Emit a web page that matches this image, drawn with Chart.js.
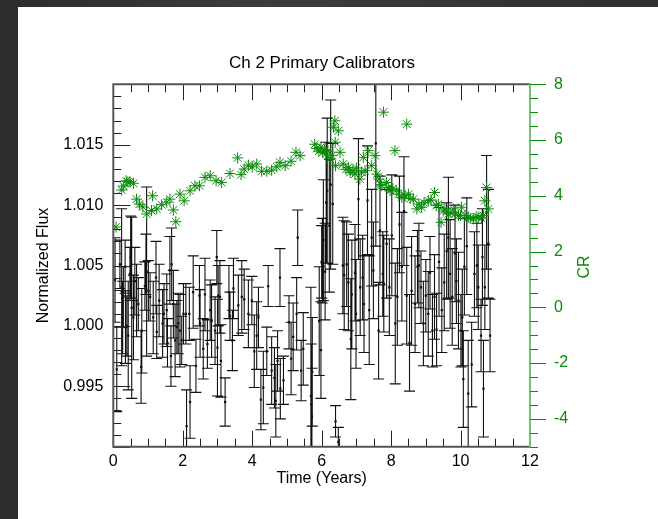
<!DOCTYPE html>
<html>
<head>
<meta charset="utf-8">
<script src="https://cdn.jsdelivr.net/npm/chart.js@4"></script>
<style>
    html, body { margin: 0; padding: 0; }
    body { width: 658px; height: 519px; overflow: hidden; position: relative;
           background: linear-gradient(90deg, #2c2c2c, #3c3c3c 40%, #2f2f2f); }
    #panel { position: absolute; left: 18px; top: 7px; right: 0; bottom: 0; background: #fff; }
    #chart { position: absolute; left: 0; top: 0; }
</style>
</head>
<body>
<div id="panel"><canvas id="chart" width="608" height="512"></canvas></div>
<script>
/* ---------- data ---------- */
const fluxTime = [
    0.05, 0.10, 0.19, 0.24, 0.27, 0.29, 0.34, 0.35, 0.39, 0.43, 0.48, 0.50, 0.53, 0.58, 0.62, 0.67, 0.72, 0.80, 0.82, 0.91,
    0.94, 0.96, 1.01, 1.06, 1.15, 1.23, 1.25, 1.32, 1.42, 1.46, 1.54, 1.56, 1.63, 1.66, 1.68, 1.73, 1.78, 1.83, 1.87, 1.92,
    1.97, 2.02, 2.09, 2.11, 2.19, 2.21, 2.30, 2.38, 2.48, 2.50, 2.59, 2.64, 2.71, 2.79, 2.83, 2.93, 2.98, 3.00, 3.02, 3.07,
    3.10, 3.22, 3.33, 3.36, 3.43, 3.46, 3.60, 3.70, 3.77, 3.89, 3.99, 4.06, 4.13, 4.18, 4.25, 4.32, 4.42, 4.46, 4.56, 4.64,
    4.68, 4.73, 4.80, 4.81, 4.90, 5.06, 5.12, 5.18, 5.28, 5.31, 5.41, 5.47, 5.69, 5.70, 5.72, 5.73, 5.93, 5.98, 6.00, 6.02,
    6.05, 6.10, 6.13, 6.16, 6.22, 6.26, 6.32, 6.40, 6.48, 6.61, 6.65, 6.72, 6.77, 6.84, 6.87, 6.96, 6.99, 7.06, 7.11, 7.18,
    7.22, 7.32, 7.37, 7.44, 7.49, 7.56, 7.64, 7.68, 7.76, 7.79, 7.87, 7.95, 8.02, 8.12, 8.18, 8.24, 8.31, 8.37, 8.45, 8.53,
    8.59, 8.69, 8.76, 8.80, 8.86, 8.93, 9.00, 9.07, 9.12, 9.19, 9.25, 9.31, 9.38, 9.46, 9.53, 9.60, 9.65, 9.70, 9.76, 9.84,
    9.88, 9.94, 10.01, 10.05, 10.08, 10.11, 10.18, 10.22, 10.32, 10.40, 10.47, 10.51, 10.59, 10.63, 10.66, 10.70, 10.75, 10.80, 10.85
];
const fluxValue = [
    1.0038, 0.9964, 1.0051, 1.0032, 1.0007, 1.0024, 1.0049, 0.9999, 1.0000, 0.9992, 1.0043, 1.0057, 1.0015, 1.0007, 1.0037, 1.0021, 1.0018, 0.9966, 0.9996, 1.0033,
    1.0051, 1.0045, 1.0029, 1.0024, 1.0007, 1.0040, 0.9995, 1.0021, 1.0002, 1.0010, 1.0013, 0.9986, 1.0046, 0.9975, 1.0051, 1.0018, 0.9988, 0.9999, 1.0002, 0.9996,
    0.9988, 1.0010, 1.0010, 0.9917, 1.0010, 0.9937, 1.0028, 0.9967, 1.0025, 1.0002, 0.9981, 1.0026, 0.9985, 1.0013, 1.0004, 0.9996, 1.0057, 0.9982, 1.0025, 1.0024,
    0.9971, 0.9937, 1.0028, 1.0008, 0.9988, 1.0031, 1.0017, 1.0024, 1.0022, 1.0010, 1.0021, 0.9979, 0.9992, 1.0007, 0.9939, 0.9949, 0.9979, 1.0033, 0.9963, 0.9957,
    0.9938, 0.9971, 1.0040, 0.9948, 0.9955, 1.0003, 0.9973, 0.9991, 1.0010, 1.0073, 0.9963, 0.9981, 0.9942, 0.9935, 0.9925, 0.9962, 1.0004, 0.9980, 1.0053, 1.0054,
    1.0071, 1.0045, 1.0102, 1.0112, 1.0083, 1.0117, 1.0101, 0.9921, 0.9904, 1.0050, 1.0042, 1.0051, 1.0036, 0.9989, 1.0026, 1.0044, 1.0010, 1.0105, 1.0032, 1.0040,
    1.0018, 1.0104, 1.0013, 1.0073, 1.0046, 1.0151, 0.9996, 1.0079, 1.0043, 1.0035, 1.0068, 1.0032, 1.0075, 1.0002, 1.0024, 1.0084, 1.0049, 1.0095, 1.0025, 0.9986,
    1.0029, 1.0018, 1.0049, 1.0050, 1.0032, 1.0002, 1.0025, 1.0010, 1.0044, 0.9996, 1.0024, 0.9997, 1.0053, 1.0013, 1.0036, 1.0062, 1.0073, 1.0043, 1.0024, 1.0060,
    1.0037, 1.0021, 0.9996, 1.0007, 0.9956, 1.0049, 1.0066, 0.9944, 0.9968, 1.0043, 1.0050, 1.0032, 0.9992, 1.0057, 0.9948, 1.0032, 1.0094, 1.0068, 0.9992
];
const fluxError = [
    0.0035, 0.0035, 0.0020, 0.0065, 0.0030, 0.0025, 0.0022, 0.0030, 0.0025, 0.0045, 0.0022, 0.0034, 0.0075, 0.0035, 0.0028, 0.0030, 0.0022, 0.0030, 0.0035, 0.0020,
    0.0025, 0.0070, 0.0025, 0.0020, 0.0030, 0.0030, 0.0022, 0.0030, 0.0028, 0.0025, 0.0030, 0.0020, 0.0028, 0.0025, 0.0030, 0.0028, 0.0030, 0.0022, 0.0025, 0.0030,
    0.0020, 0.0025, 0.0025, 0.0030, 0.0022, 0.0030, 0.0030, 0.0022, 0.0025, 0.0028, 0.0025, 0.0030, 0.0020, 0.0025, 0.0030, 0.0028, 0.0022, 0.0040, 0.0025, 0.0030,
    0.0030, 0.0020, 0.0022, 0.0020, 0.0025, 0.0025, 0.0025, 0.0030, 0.0025, 0.0028, 0.0020, 0.0030, 0.0028, 0.0025, 0.0025, 0.0030, 0.0020, 0.0017, 0.0028, 0.0025,
    0.0030, 0.0025, 0.0024, 0.0025, 0.0020, 0.0022, 0.0030, 0.0028, 0.0030, 0.0023, 0.0025, 0.0030, 0.0090, 0.0050, 0.0040, 0.0045, 0.0045, 0.0040, 0.0030, 0.0035,
    0.0050, 0.0040, 0.0050, 0.0060, 0.0055, 0.0070, 0.0050, 0.0013, 0.0012, 0.0040, 0.0045, 0.0035, 0.0040, 0.0050, 0.0045, 0.0040, 0.0045, 0.0050, 0.0040, 0.0035,
    0.0040, 0.0045, 0.0045, 0.0040, 0.0040, 0.0085, 0.0040, 0.0045, 0.0035, 0.0040, 0.0045, 0.0040, 0.0050, 0.0050, 0.0040, 0.0040, 0.0045, 0.0045, 0.0040, 0.0040,
    0.0045, 0.0040, 0.0030, 0.0035, 0.0030, 0.0035, 0.0030, 0.0035, 0.0030, 0.0030, 0.0035, 0.0030, 0.0045, 0.0035, 0.0040, 0.0040, 0.0050, 0.0045, 0.0040, 0.0040,
    0.0035, 0.0040, 0.0030, 0.0040, 0.0040, 0.0040, 0.0040, 0.0044, 0.0035, 0.0035, 0.0035, 0.0035, 0.0030, 0.0040, 0.0040, 0.0035, 0.0047, 0.0045, 0.0030
];

const crTime = [
    0.08, 0.24, 0.30, 0.37, 0.42, 0.48, 0.58, 0.67, 0.75, 0.85, 0.96, 1.10, 1.13, 1.25, 1.39, 1.54, 1.63, 1.73, 1.80, 1.92,
    2.04, 2.21, 2.35, 2.48, 2.64, 2.79, 2.96, 3.12, 3.36, 3.58, 3.68, 3.77, 3.89, 4.00, 4.13, 4.27, 4.42, 4.56, 4.71, 4.80,
    4.95, 5.12, 5.26, 5.38, 5.80, 5.86, 5.92, 5.98, 6.03, 6.08, 6.13, 6.18, 6.24, 6.30, 6.34, 6.38, 6.39, 6.40, 6.48, 6.53,
    6.62, 6.70, 6.77, 6.82, 6.90, 6.96, 7.00, 7.10, 7.15, 7.20, 7.25, 7.34, 7.44, 7.54, 7.59, 7.65, 7.70, 7.73, 7.78, 7.87,
    7.92, 7.97, 8.05, 8.11, 8.15, 8.21, 8.31, 8.40, 8.45, 8.50, 8.55, 8.64, 8.74, 8.80, 8.88, 8.95, 9.07, 9.15, 9.25, 9.30,
    9.36, 9.44, 9.50, 9.55, 9.65, 9.70, 9.79, 9.85, 9.94, 10.00, 10.03, 10.13, 10.22, 10.28, 10.37, 10.45, 10.51, 10.60, 10.66, 10.70,
    10.75, 10.80
];
const crValue = [
    2.88, 4.21, 4.35, 4.54, 4.50, 4.50, 4.45, 3.88, 3.70, 3.60, 3.35, 3.47, 4.00, 3.53, 3.68, 3.77, 3.88, 3.49, 3.07, 4.06,
    3.82, 4.18, 4.36, 4.36, 4.66, 4.72, 4.54, 4.48, 4.80, 5.36, 4.76, 4.96, 5.10, 5.04, 5.14, 4.88, 4.88, 4.92, 5.04, 5.20,
    5.08, 5.24, 5.56, 5.44, 5.85, 5.70, 5.60, 5.75, 5.55, 5.65, 5.50, 5.60, 5.32, 5.45, 6.46, 6.69, 5.92, 5.08, 6.33, 5.56,
    5.14, 4.95, 5.02, 4.84, 4.90, 4.78, 5.00, 4.60, 4.85, 5.38, 4.90, 5.62, 5.08, 5.44, 4.78, 4.60, 4.40, 4.36, 7.00, 4.48,
    4.30, 4.18, 4.25, 5.62, 4.20, 4.06, 3.94, 4.00, 6.57, 4.06, 3.90, 3.88, 3.53, 3.70, 3.59, 3.75, 3.82, 3.85, 4.12, 3.65,
    3.70, 3.05, 3.45, 3.53, 3.35, 3.40, 3.53, 3.35, 3.29, 3.30, 3.59, 3.29, 3.23, 3.20, 3.17, 3.25, 3.23, 3.20, 3.29, 3.82,
    4.30, 3.53
];

const xRange = [0, 12];
const fluxRange = [0.990, 1.020];
const crRange = [-5, 8];

const GREEN = '#0a8a0a';
const FONT = "'Liberation Sans', Arial, Helvetica, sans-serif";

/* ---------- helpers ---------- */
function steps(lo, hi, step) {
    const out = [];
    for (let v = lo; v <= hi + step / 100; v += step) out.push(Math.round(v * 1e6) / 1e6);
    return out;
}
const isMult = (v, m) => Math.abs(v / m - Math.round(v / m)) < 1e-6;

/* error bars sit under the points */
const errorBars = {
    id: 'errorBars',
    beforeDatasetsDraw(chart) {
        const { ctx, chartArea: a, scales: { x, y } } = chart;
        ctx.save();
        ctx.beginPath();
        ctx.rect(a.left, a.top, a.right - a.left, a.bottom - a.top);
        ctx.clip();
        ctx.strokeStyle = '#111';
        ctx.lineWidth = 1.1;
        ctx.beginPath();
        fluxTime.forEach((t, i) => {
            const px = x.getPixelForValue(t);
            const hi = y.getPixelForValue(fluxValue[i] + fluxError[i]);
            const lo = y.getPixelForValue(fluxValue[i] - fluxError[i]);
            ctx.moveTo(px, hi); ctx.lineTo(px, lo);
            ctx.moveTo(px - 5.5, hi); ctx.lineTo(px + 5.5, hi);
            ctx.moveTo(px - 5.5, lo); ctx.lineTo(px + 5.5, lo);
        });
        ctx.stroke();
        ctx.restore();
    }
};

/* IDL-style frame: inward ticks on three sides, green outward ticks on the right */
const frame = {
    id: 'frame',
    afterDraw(chart) {
        const { ctx, chartArea: a, scales: { x, y, y2 } } = chart;
        ctx.save();

        ctx.strokeStyle = '#222';
        ctx.lineWidth = 1;
        ctx.beginPath();
        steps(xRange[0], xRange[1], 0.5).forEach(v => {
            const px = Math.round(x.getPixelForValue(v)) + 0.5;
            const len = isMult(v, 2) ? 16 : 8;
            ctx.moveTo(px, a.bottom); ctx.lineTo(px, a.bottom - len);
            ctx.moveTo(px, a.top); ctx.lineTo(px, a.top + len);
        });
        steps(fluxRange[0], fluxRange[1], 0.001).forEach(v => {
            const py = Math.round(y.getPixelForValue(v)) + 0.5;
            const len = isMult(v, 0.005) ? 17 : 8;
            ctx.moveTo(a.left, py); ctx.lineTo(a.left + len, py);
        });
        ctx.stroke();

        ctx.strokeStyle = '#555';
        ctx.lineWidth = 2;
        ctx.beginPath();
        ctx.moveTo(a.right, a.top); ctx.lineTo(a.left, a.top);
        ctx.lineTo(a.left, a.bottom); ctx.lineTo(a.right, a.bottom);
        ctx.stroke();

        ctx.strokeStyle = '#74c274';
        ctx.beginPath();
        ctx.moveTo(a.right, a.top - 1); ctx.lineTo(a.right, a.bottom + 1);
        ctx.stroke();

        ctx.strokeStyle = GREEN;
        ctx.lineWidth = 1;
        ctx.beginPath();
        steps(crRange[0], crRange[1], 0.5).forEach(v => {
            const py = Math.round(y2.getPixelForValue(v)) + 0.5;
            const len = isMult(v, 2) ? 16 : 8;
            ctx.moveTo(a.right, py); ctx.lineTo(a.right + len, py);
        });
        ctx.stroke();

        ctx.fillStyle = GREEN;
        ctx.font = `16px ${FONT}`;
        ctx.textAlign = 'center';
        ctx.textBaseline = 'middle';
        ctx.translate(567, 260);
        ctx.rotate(-Math.PI / 2);
        ctx.fillText('CR', 0, 0);
        ctx.restore();
    }
};

Chart.defaults.font.family = FONT;
Chart.defaults.color = '#000';

new Chart(document.getElementById('chart'), {
    type: 'scatter',
    data: {
        datasets: [
            {
                label: 'CR',
                data: crTime.map((t, i) => ({ x: t, y: crValue[i] })),
                yAxisID: 'y2',
                pointStyle: 'star',
                radius: 5.5,
                borderColor: GREEN,
                backgroundColor: GREEN,
                borderWidth: 1,
                order: 0
            },
            {
                label: 'Flux',
                data: fluxTime.map((t, i) => ({ x: t, y: fluxValue[i] })),
                yAxisID: 'y',
                pointStyle: 'rect',
                radius: 1.6,
                borderWidth: 0,
                backgroundColor: '#111',
                order: 1
            }
        ]
    },
    options: {
        responsive: false,
        animation: false,
        events: [],
        layout: { padding: 0 },
        plugins: {
            legend: { display: false },
            tooltip: { enabled: false },
            title: {
                display: true,
                text: 'Ch 2 Primary Calibrators',
                color: '#000',
                font: { size: 17, weight: 'normal' },
                padding: { top: 45.8, bottom: 11.1 }
            }
        },
        scales: {
            x: {
                type: 'linear',
                min: xRange[0], max: xRange[1],
                grid: { display: false, drawTicks: false },
                border: { display: false },
                ticks: { stepSize: 2, padding: 5, maxRotation: 0, color: '#000', font: { size: 16 } },
                title: { display: true, text: 'Time (Years)', color: '#000', font: { size: 16 }, padding: { top: 0, bottom: 31 } },
                afterFit: s => { s.height = 72.3; }
            },
            y: {
                position: 'left',
                min: fluxRange[0], max: fluxRange[1],
                grid: { display: false, drawTicks: false },
                border: { display: false },
                ticks: {
                    stepSize: 0.005, padding: 10, color: '#000', font: { size: 16 },
                    callback: v => (v < 0.9945 || v > 1.0155) ? '' : v.toFixed(3)
                },
                title: { display: true, text: 'Normalized Flux', color: '#000', font: { size: 16 }, padding: { top: 16, bottom: 0 } },
                afterFit: s => { s.width = 95.3; }
            },
            y2: {
                position: 'right',
                min: crRange[0], max: crRange[1],
                grid: { display: false, drawTicks: false },
                border: { display: false },
                ticks: {
                    stepSize: 2, padding: 24, color: GREEN, font: { size: 16 },
                    callback: v => (v === crRange[0] ? '' : v)
                },
                afterFit: s => { s.width = 96; }
            }
        }
    },
    plugins: [errorBars, frame]
});
</script>
</body>
</html>
